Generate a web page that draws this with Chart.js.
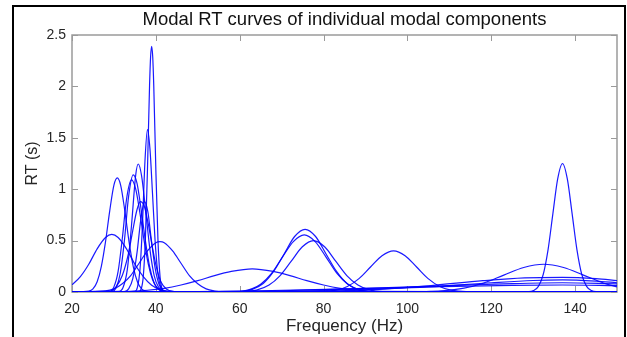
<!DOCTYPE html>
<html>
<head>
<meta charset="utf-8">
<script src="https://cdn.jsdelivr.net/npm/chart.js@4.4.6/dist/chart.umd.min.js"></script>
<style>
  html, body { margin: 0; padding: 0; background: #fff; }
  #wrap { width: 627px; height: 337px; }
</style>
</head>
<body>
<div id="wrap"><canvas id="grafico" width="627" height="337"></canvas></div>
<script>
// Ejes
const xTicks = [20, 40, 60, 80, 100, 120, 140];
const yTicks = [0, 0.5, 1, 1.5, 2, 2.5];

// Curvas RT modales: [frecuencia (Hz), RT (s)]
const rt29 = [[20,0.07],[22,0.15],[24,0.27],[26,0.42],[28,0.53],[29.5,0.56],[31,0.53],[33,0.42],[35,0.27],[37,0.15],[39,0.066],[41,0.025],[43,0.008],[46,0],[150,0]];
const rt31 = [[20,0],[24,0.01],[25,0.03],[26,0.1],[27,0.25],[28,0.49],[29,0.79],[30,1.04],[30.8,1.11],[31.6,1.04],[32.6,0.79],[33.6,0.49],[34.6,0.25],[35.6,0.1],[36.6,0.03],[37.6,0.01],[40,0],[150,0]];
const rt34a = [[20,0],[29.5,0.005],[30.5,0.04],[31.5,0.18],[32.5,0.5],[33.5,0.93],[34.6,1.14],[35.5,1.06],[36.5,0.8],[37.5,0.5],[38.5,0.25],[39.5,0.1],[40.5,0.03],[42,0.004],[44,0],[150,0]];
const rt34b = [[20,0],[29,0.008],[30,0.05],[31,0.2],[32,0.52],[33,0.9],[34.2,1.09],[35.2,1.0],[36.2,0.77],[37.2,0.5],[38.2,0.27],[39.2,0.12],[40.2,0.045],[41.5,0.01],[43.5,0],[150,0]];
const rt36a = [[20,0],[31.2,0.006],[32.2,0.046],[33.2,0.22],[34.2,0.65],[35.2,1.14],[35.8,1.245],[36.6,1.13],[37.6,0.78],[38.6,0.41],[39.6,0.16],[40.6,0.05],[41.8,0.01],[43,0],[150,0]];
const rt36b = [[20,0],[29,0.007],[30.5,0.05],[32,0.16],[33.5,0.38],[34.5,0.6],[35.5,0.8],[36.3,0.88],[37.2,0.84],[38.2,0.66],[39.2,0.43],[40.2,0.23],[41.2,0.1],[42.5,0.03],[44.5,0.004],[46,0],[150,0]];
const rt37 = [[20,0],[32.5,0.004],[33.5,0.03],[34.5,0.13],[35.5,0.38],[36.4,0.7],[37.3,0.88],[38.1,0.78],[38.8,0.55],[39.8,0.24],[40.8,0.07],[41.8,0.014],[43,0],[150,0]];
const rt38 = [[20,0],[35,0.006],[35.6,0.045],[36.2,0.21],[36.8,0.65],[37.4,1.27],[38,1.58],[38.6,1.39],[39.2,0.96],[39.8,0.51],[40.4,0.21],[41,0.07],[41.6,0.018],[42.5,0],[150,0]];
const rt39 = [[20,0],[35.8,0],[36.5,0.03],[37,0.15],[37.5,0.51],[38,1.19],[38.5,2.01],[38.75,2.29],[39,2.39],[39.25,2.29],[39.5,2.01],[40,1.19],[40.5,0.51],[41,0.15],[41.5,0.03],[42.2,0],[150,0]];
const rt41 = [[20,0],[28,0.01],[30,0.03],[32,0.08],[34,0.16],[36,0.28],[38,0.4],[40,0.48],[41,0.49],[42,0.48],[44,0.4],[46,0.28],[48,0.16],[50,0.08],[52,0.03],[54,0.01],[57,0],[150,0]];
const rt63 = [[20,0],[30,0.002],[38,0.017],[42,0.036],[46,0.068],[50,0.11],[54,0.16],[58,0.2],[63,0.225],[68,0.2],[72,0.16],[76,0.11],[80,0.068],[84,0.036],[88,0.017],[96,0.002],[150,0]];
const rt75a = [[20,0],[60,0.005],[63,0.026],[65.6,0.083],[68.1,0.2],[70.6,0.37],[73.1,0.54],[75.6,0.61],[78.1,0.54],[80.6,0.37],[83.1,0.2],[85.6,0.083],[88.1,0.026],[91,0.005],[150,0]];
const rt75b = [[20,0],[60,0.005],[63,0.033],[65,0.075],[67.6,0.18],[70.2,0.34],[72.8,0.49],[75.4,0.555],[78,0.49],[80.6,0.34],[83.2,0.18],[85.8,0.075],[88.4,0.024],[91,0.006],[150,0]];
const rt78 = [[20,0],[61,0.004],[64,0.018],[67,0.068],[69.65,0.16],[72.3,0.3],[74.95,0.44],[77.6,0.5],[80.25,0.44],[82.9,0.3],[85.55,0.16],[88.2,0.068],[91,0.02],[94,0.004],[150,0]];
const rt97 = [[20,0],[77,0],[83,0.018],[85.7,0.054],[88.45,0.13],[91.2,0.243],[93.95,0.353],[96.7,0.4],[99.45,0.353],[102.2,0.243],[104.95,0.13],[107.7,0.054],[110.4,0.018],[114,0.003],[150,0]];
const rt132 = [[20,0],[100,0.001],[104,0.003],[108,0.01],[113.5,0.037],[118.25,0.088],[123,0.164],[127.75,0.238],[132.5,0.27],[137.25,0.238],[142,0.164],[146.75,0.088],[150,0.05]];
const rt137 = [[20,0],[129,0.003],[130.1,0.014],[131.25,0.055],[132.4,0.17],[133.55,0.41],[134.7,0.76],[135.85,1.1],[137,1.25],[138.15,1.1],[139.3,0.76],[140.45,0.41],[141.6,0.17],[142.75,0.055],[143.9,0.014],[145,0.003],[150,0]];
const rtBajaA = [[20,0],[75,0.004],[90,0.02],[105,0.06],[118,0.11],[128,0.138],[137,0.143],[145,0.13],[150,0.11]];
const rtBajaB = [[20,0],[65,0.004],[85,0.02],[105,0.05],[120,0.09],[130,0.112],[137,0.117],[145,0.105],[150,0.09]];
const rtBajaC = [[20,0],[50,0.002],[70,0.012],[90,0.035],[110,0.062],[125,0.082],[137,0.09],[150,0.08]];
const rtBajaD = [[20,0],[45,0.002],[65,0.012],[85,0.03],[105,0.05],[125,0.064],[137,0.068],[150,0.062]];

const curvas = [rt29, rt31, rt34a, rt34b, rt36a, rt36b, rt37, rt38, rt39, rt41, rt63,
  rt75a, rt75b, rt78, rt97, rt132, rt137, rtBajaA, rtBajaB, rtBajaC, rtBajaD];

const TEXTO = '#262626';
const EJE = '#9a9a9a';
Chart.defaults.font.family = '"Liberation Sans", Arial, Helvetica, sans-serif';

// Caja de ejes con marcas hacia dentro, título y marco negro de la figura
const marcoEstiloMatlab = {
  id: 'marcoEstiloMatlab',
  beforeDraw(chart) {
    const { ctx, width, height } = chart;
    ctx.save();
    ctx.fillStyle = '#fff';
    ctx.fillRect(0, 0, width, height);
    ctx.restore();
  },
  beforeDatasetsDraw(chart) {
    const { ctx, chartArea: a, scales: { x, y } } = chart;
    const largo = 6;
    ctx.save();
    ctx.strokeStyle = EJE;
    ctx.lineWidth = 1.5;
    ctx.strokeRect(a.left, a.top, a.right - a.left, a.bottom - a.top);
    ctx.lineWidth = 1;
    ctx.beginPath();
    xTicks.forEach(v => {
      const px = Math.round(x.getPixelForValue(v)) + 0.5;
      ctx.moveTo(px, a.bottom); ctx.lineTo(px, a.bottom - largo);
      ctx.moveTo(px, a.top); ctx.lineTo(px, a.top + largo);
    });
    yTicks.forEach(v => {
      const py = Math.round(y.getPixelForValue(v)) + 0.5;
      ctx.moveTo(a.left, py); ctx.lineTo(a.left + largo, py);
      ctx.moveTo(a.right, py); ctx.lineTo(a.right - largo, py);
    });
    ctx.stroke();
    ctx.restore();
  },
  afterDraw(chart) {
    const { ctx, chartArea: a } = chart;
    ctx.save();
    ctx.fillStyle = '#111';
    ctx.font = '18.5px "Liberation Sans", Arial, sans-serif';
    ctx.textAlign = 'center';
    ctx.textBaseline = 'alphabetic';
    ctx.fillText('Modal RT curves of individual modal components', (a.left + a.right) / 2, 25);
    ctx.strokeStyle = '#000';
    ctx.lineWidth = 2;
    ctx.strokeRect(13, 6, 612, 400);
    ctx.restore();
  }
};

const datasets = curvas.map(c => ({
  data: c.map(([f, rt]) => ({ x: f, y: rt })),
  borderColor: 'rgba(0, 0, 255, 0.9)',
  borderWidth: 1.2,
  pointRadius: 0,
  fill: false,
  cubicInterpolationMode: 'monotone'
}));

new Chart(document.getElementById('grafico'), {
  type: 'line',
  data: { datasets },
  plugins: [marcoEstiloMatlab],
  options: {
    responsive: false,
    animation: false,
    devicePixelRatio: 1,
    parsing: false,
    layout: { padding: { top: 35, right: 10, left: 0, bottom: 0 } },
    plugins: {
      legend: { display: false },
      tooltip: { enabled: false },
      title: { display: false }
    },
    scales: {
      x: {
        type: 'linear',
        min: 20,
        max: 150,
        grid: { display: false, drawTicks: false },
        border: { display: false },
        afterBuildTicks: s => { s.ticks = xTicks.map(v => ({ value: v })); },
        afterFit: s => { s.height = 45; },
        ticks: { autoSkip: false, maxRotation: 0, padding: 9, color: TEXTO, font: { size: 14 } },
        title: { display: true, text: 'Frequency (Hz)', color: TEXTO, font: { size: 17 }, padding: 0 }
      },
      y: {
        type: 'linear',
        min: 0,
        max: 2.5,
        grid: { display: false, drawTicks: false },
        border: { display: false },
        afterBuildTicks: s => { s.ticks = yTicks.map(v => ({ value: v })); },
        afterFit: s => { s.width = 72; },
        ticks: { padding: 6, color: TEXTO, font: { size: 14 }, callback: v => String(v) },
        title: { display: true, text: 'RT (s)', color: TEXTO, font: { size: 16 }, padding: { top: 23, bottom: 0 } }
      }
    }
  }
});
</script>
</body>
</html>
